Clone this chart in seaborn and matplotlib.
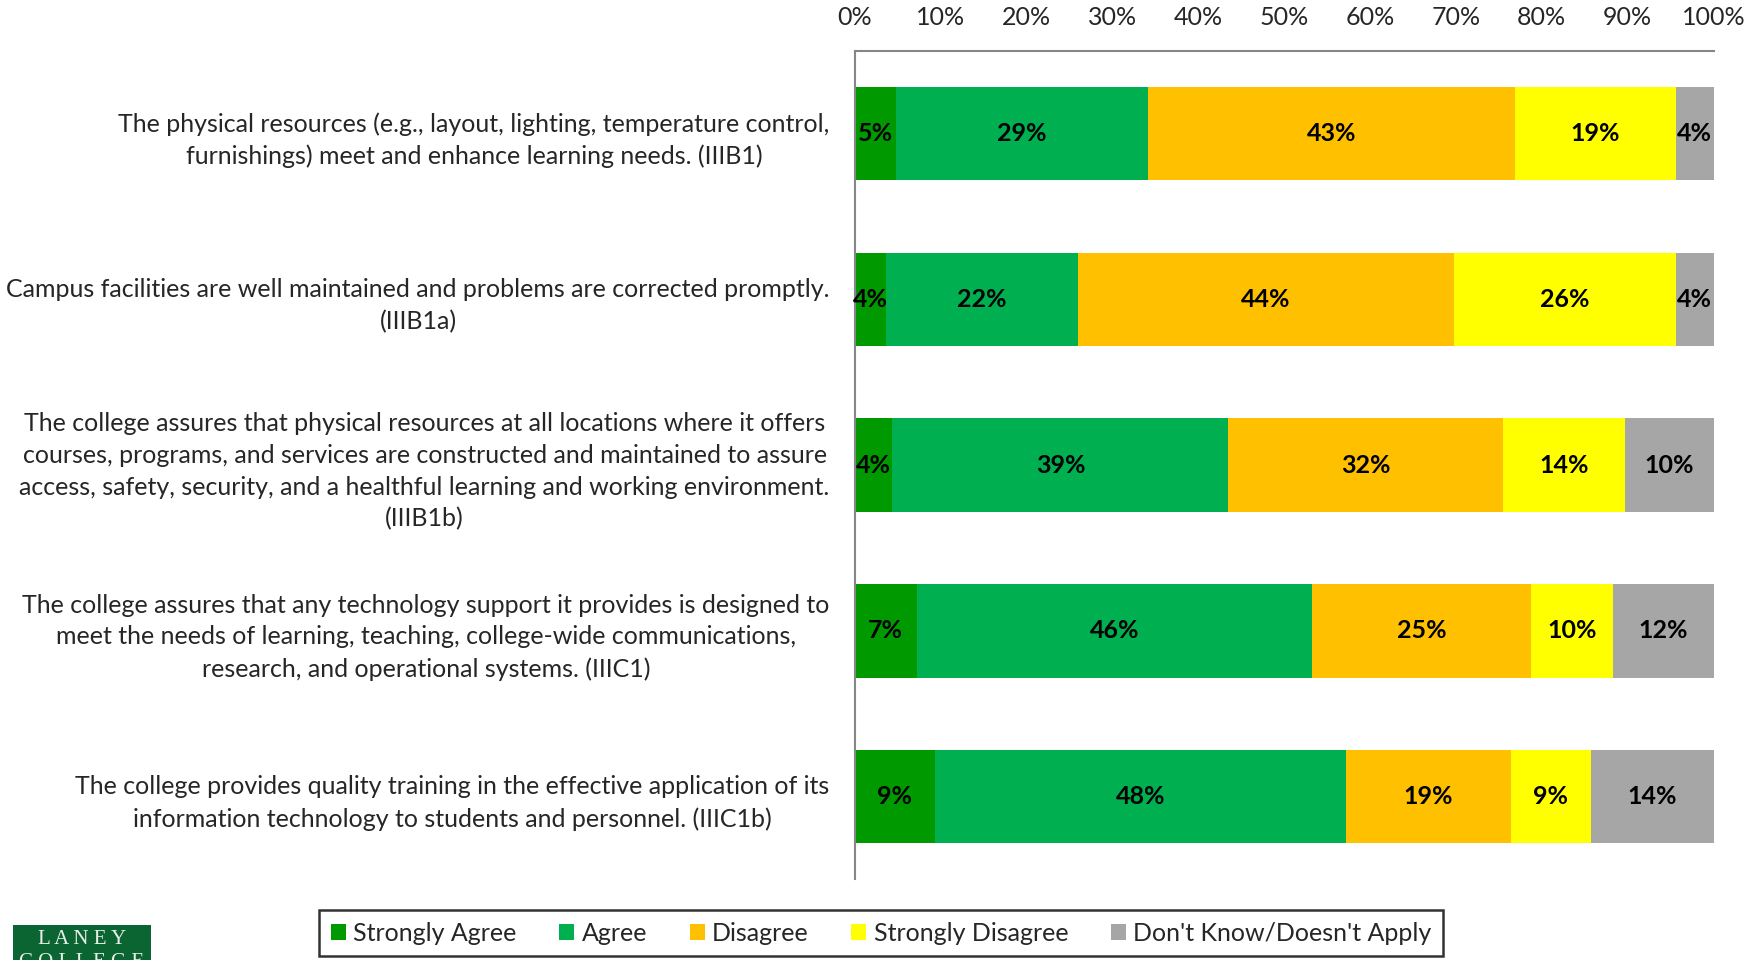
import numpy as np
import pandas as pd
import seaborn as sns
import matplotlib.pyplot as plt
from matplotlib.patches import Rectangle, Patch

questions = [
    "The physical resources (e.g., layout, lighting, temperature control,\nfurnishings) meet and enhance learning needs. (IIIB1)",
    "Campus facilities are well maintained and problems are corrected promptly.\n(IIIB1a)",
    "The college assures that physical resources at all locations where it offers\ncourses, programs, and services are constructed and maintained to assure\naccess, safety, security, and a healthful learning and working environment.\n(IIIB1b)",
    "The college assures that any technology support it provides is designed to\nmeet the needs of learning, teaching, college-wide communications,\nresearch, and operational systems. (IIIC1)",
    "The college provides quality training in the effective application of its\ninformation technology to students and personnel. (IIIC1b)",
]
responses = ["Strongly Agree", "Agree", "Disagree", "Strongly Disagree", "Don't Know/Doesn't Apply"]
strongly_agree = [4.8, 3.6, 4.4, 7.2, 9.3]
agree = [29.3, 22.4, 39.1, 46.1, 47.9]
disagree = [42.8, 43.8, 32.0, 25.4, 19.2]
strongly_disagree = [18.7, 25.8, 14.2, 9.6, 9.3]
dont_know = [4.4, 4.4, 10.3, 11.7, 14.3]
colors = ["#009900", "#00B050", "#FFC000", "#FFFF00", "#A6A6A6"]

df = pd.DataFrame({"question": questions, "Strongly Agree": strongly_agree, "Agree": agree,
                   "Disagree": disagree, "Strongly Disagree": strongly_disagree,
                   "Don't Know/Doesn't Apply": dont_know})
cum = df[responses].cumsum(axis=1)

sns.set_style("white")
plt.rcParams['font.family'] = ['Lato', 'DejaVu Sans']

fig = plt.figure(figsize=(17.45, 9.6), dpi=100)
ax = fig.add_axes([0.4898, 0.084, 0.4922, 0.863])

# draw cumulative totals from the right so each layer covers the next
for resp, col in zip(responses[::-1], colors[::-1]):
    sns.barplot(x=cum[resp], y=df["question"], color=col, orient="h",
                width=0.564, ax=ax, saturation=1, linewidth=0)

for i in range(len(df)):
    left = 0
    for resp in responses:
        v = df.loc[i, resp]
        ax.text(left + v / 2, i, f"{v:.0f}%", ha="center", va="center",
                fontsize=18, fontweight="bold", color="black")
        left += v

ax.set_xlim(0, 100)
ax.set_ylim(4.5, -0.5)
ax.set_xticks(np.arange(0, 101, 10))
ax.set_xticklabels([f"{t}%" for t in range(0, 101, 10)])
ax.xaxis.tick_top()
ax.tick_params(axis="x", length=0, pad=16, labelsize=18)
ax.tick_params(axis="y", length=0, pad=18, labelsize=18)
for lab in ax.get_yticklabels():
    lab.set_multialignment("center")
    lab.set_linespacing(1.45)
ax.set_xlabel("")
ax.set_ylabel("")
for s in ["right", "bottom"]:
    ax.spines[s].set_visible(False)
for s in ["left", "top"]:
    ax.spines[s].set_color("#868686")
    ax.spines[s].set_linewidth(1.5)

handles = [Patch(facecolor=c, edgecolor="none") for c in colors]
leg = fig.legend(handles, responses, loc="center", bbox_to_anchor=(0.505, 0.028), ncol=5,
                 frameon=True, fancybox=False, fontsize=18, handlelength=0.6, handleheight=0.6,
                 handletextpad=0.3, columnspacing=1.7, borderpad=0.45)
leg.get_frame().set_edgecolor("black")
leg.get_frame().set_linewidth(1.8)

# college logo block in the bottom-left corner
fig.patches.append(Rectangle((13 / 1745, 0), 138 / 1745, 35 / 960, transform=fig.transFigure,
                             facecolor="#0B6532", edgecolor="none"))
fig.text(82 / 1745, 1 - 940 / 960, "L A N E Y", ha="center", va="center", color="#E8EFE8",
         fontsize=15, family="Liberation Serif")
fig.text(82 / 1745, 1 - 962 / 960, "C O L L E G E", ha="center", va="center", color="#E8EFE8",
         fontsize=15, family="Liberation Serif")

fig.savefig("out.png", dpi=100)
